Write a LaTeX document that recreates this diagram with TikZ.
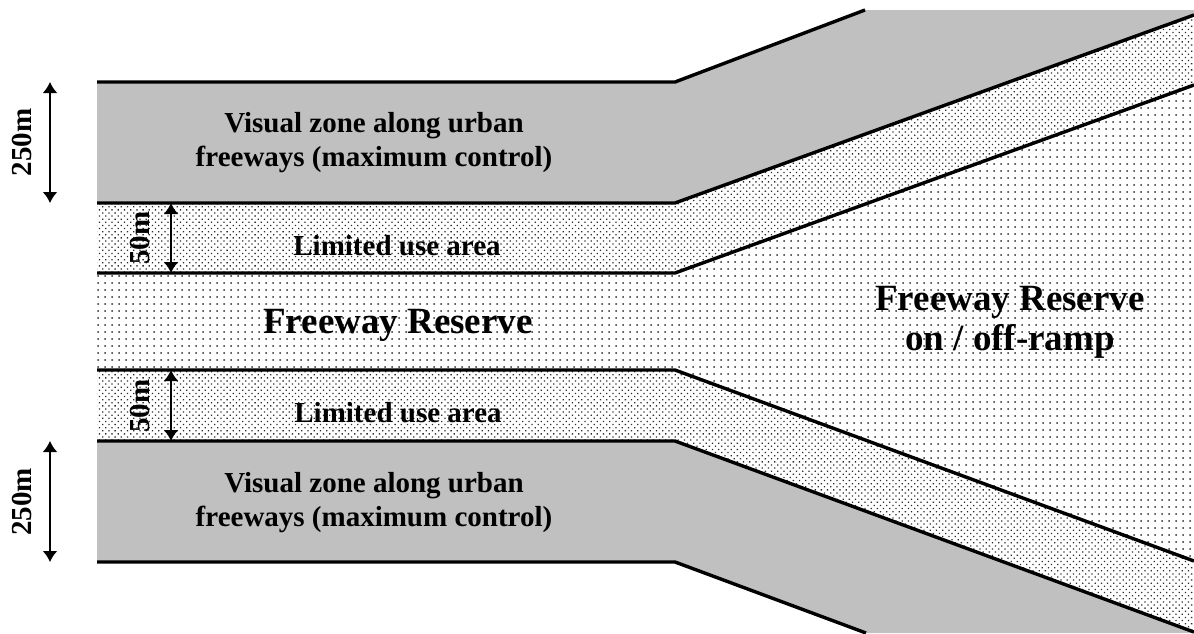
\documentclass[tikz,border=0pt]{standalone}
\usepackage{fontspec}
\setmainfont{Liberation Serif}
\usepackage{tikz}
\usetikzlibrary{arrows.meta,patterns.meta}
\definecolor{zonegrey}{HTML}{C0C0C0}
\definecolor{dotgrey}{HTML}{2A2A2A}
\tikzstyle{zone} = [fill=zonegrey]
\tikzstyle{limited} = [pattern={Dots[distance=2.2pt, radius=0.45pt, angle=45]}, pattern color=dotgrey]
\tikzstyle{reserve} = [pattern={Dots[distance=3.5pt, radius=0.5pt]}, pattern color=dotgrey]
\tikzstyle{bandline} = [draw, line width=1.7pt, line join=miter]
\tikzstyle{dim} = [<->, line width=1pt]
\tikzstyle{dimtext} = [rotate=90, font=\bfseries\fontsize{14.5}{17}\selectfont]
\tikzstyle{zonetext} = [font=\bfseries\fontsize{14.5}{17}\selectfont, align=center]
\tikzstyle{reservetext} = [font=\bfseries\fontsize{18.5}{20}\selectfont, align=center]

\begin{document}
\begin{tikzpicture}[x=0.5pt, y=-0.5pt, >={Latex[length=5.5pt,width=7.5pt]}]
		\useasboundingbox (0,0) rectangle (1194,633);
		
		% bands, left to the kink, then fanning out
		\path[zone] (97,82) -- (675,82) -- (865,10) -- (1194,10) -- (1194,15) -- (675,203) -- (97,203) -- cycle;
		\path[limited] (97,203) -- (675,203) -- (1194,15) -- (1194,85) -- (675,273) -- (97,273) -- cycle;
		\path[reserve] (97,273) -- (675,273) -- (1194,85) -- (1194,561) -- (675,370) -- (97,370) -- cycle;
		\path[limited] (97,370) -- (675,370) -- (1194,561) -- (1194,632) -- (675,441) -- (97,441) -- cycle;
		\path[zone] (97,441) -- (675,441) -- (1194,632) -- (1194,633) -- (866,633) -- (675,562) -- (97,562) -- cycle;
		
		\draw[bandline] (97,82) -- (675,82) -- (865,10);
		\draw[bandline] (97,203) -- (675,203) -- (1194,15);
		\draw[bandline] (97,273) -- (675,273) -- (1194,85);
		\draw[bandline] (97,370) -- (675,370) -- (1194,561);
		\draw[bandline] (97,441) -- (675,441) -- (1194,632);
		\draw[bandline] (97,562) -- (675,562) -- (866,633);
		
		% texts
		\node(topzone)[zonetext] at (374,143) {Visual zone along urban\\freeways (maximum control)};
		\node(toplimited)[zonetext, anchor=base] at (397,255) {Limited use area};
		\node(reserve)[reservetext, anchor=base] at (398,333) {Freeway Reserve};
		\node(ramp)[reservetext] at (1010,322) {Freeway Reserve\\on / off-ramp};
		\node(botlimited)[zonetext, anchor=base] at (398,422) {Limited use area};
		\node(botzone)[zonetext] at (374,503) {Visual zone along urban\\freeways (maximum control)};
		
		% widths
		\coordinate (topzoneN) at (50,82);
		\coordinate (topzoneS) at (50,203);
		\coordinate (toplimN) at (171,203);
		\coordinate (toplimS) at (171,273);
		\coordinate (botlimN) at (171,370);
		\coordinate (botlimS) at (171,441);
		\coordinate (botzoneN) at (50,441);
		\coordinate (botzoneS) at (50,562);
		
		\draw[dim] (topzoneN) -- (topzoneS);
		\draw[dim] (toplimN) -- (toplimS);
		\draw[dim] (botlimN) -- (botlimS);
		\draw[dim] (botzoneN) -- (botzoneS);
		
		\node(topzonewidth)[dimtext] at (22,142.5) {250m};
		\node(toplimwidth)[dimtext] at (140,238) {50m};
		\node(botlimwidth)[dimtext] at (140,406) {50m};
		\node(botzonewidth)[dimtext] at (22,502) {250m};
\end{tikzpicture}
\end{document}
